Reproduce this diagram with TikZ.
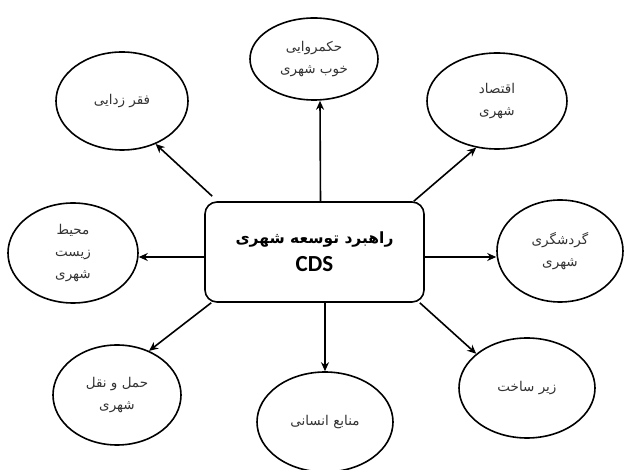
\documentclass[tikz,border=0pt]{standalone}
\usepackage{fontspec}
\usetikzlibrary{shapes.geometric,arrows.meta,calc}
\TeXXeTstate=1
\newfontfamily\arabicfont[Script=Arabic]{DejaVu Sans}
\newfontfamily\cdsfont{Carlito}
\newcommand\fa[1]{\beginR #1\endR}
\begin{document}
\begin{tikzpicture}[x=1pt,y=-1pt,
 ell/.style={ellipse,draw,line width=1.6pt,inner sep=0pt,align=center,
   font=\arabicfont\fontsize{13.5}{22}\selectfont,text=black!80},
 arr/.style={line width=1.6pt,-{Stealth[length=9pt,width=8pt]}},
 mainbox/.style={draw,line width=1.6pt,rounded corners=12pt,minimum width=219pt,
   minimum height=100pt,align=center,font=\arabicfont\bfseries\fontsize{15.5}{28}\selectfont}]
\useasboundingbox (0,0) rectangle (625,470);
\node[mainbox] (box) at (314.5,252) {\fa{راهبرد توسعه شهری}\\{\cdsfont\bfseries\fontsize{23}{26}\selectfont CDS}};
\node[ell,minimum width=128pt,minimum height=82pt] (top) at (314,59) {\fa{حکمروایی}\\\fa{خوب شهری}};
\node[ell,minimum width=132pt,minimum height=98pt] (tl) at (122,101) {\fa{فقر زدایی}};
\node[ell,minimum width=140pt,minimum height=96pt] (tr) at (497,101) {\fa{اقتصاد}\\\fa{شهری}};
\node[ell,minimum width=130pt,minimum height=100pt] (lft) at (73,253) {\fa{محیط}\\\fa{زیست}\\\fa{شهری}};
\node[ell,minimum width=126pt,minimum height=102pt] (rgt) at (560,251) {\fa{گردشگری}\\\fa{شهری}};
\node[ell,minimum width=128pt,minimum height=100pt] (bl) at (117,395) {\fa{حمل و نقل}\\\fa{شهری}};
\node[ell,minimum width=136pt,minimum height=100pt] (bot) at (325,422) {\fa{منابع انسانی}};
\node[ell,minimum width=136pt,minimum height=100pt] (br) at (527,388) {\fa{زیر ساخت}};
\draw[arr] ($(box.north)+(6,0)$) -- ($(top.south)+(6,0)$);
\draw[arr] ($(box.north west)+(8,-5)$) -- (tl.-52);
\draw[arr] ($(box.north east)+(-11,0)$) -- (tr.-114);
\draw[arr] ($(box.west)+(0,5)$) -- ($(lft.east)+(0,4)$);
\draw[arr] ($(box.east)+(0,5)$) -- ($(rgt.west)+(0,6)$);
\draw[arr] ($(box.south west)+(7,0)$) -- (bl.54);
\draw[arr] (box.south -| bot.north) -- (bot.north);
\draw[arr] ($(box.south east)+(-5,0)$) -- (br.146);
\end{tikzpicture}
\end{document}
